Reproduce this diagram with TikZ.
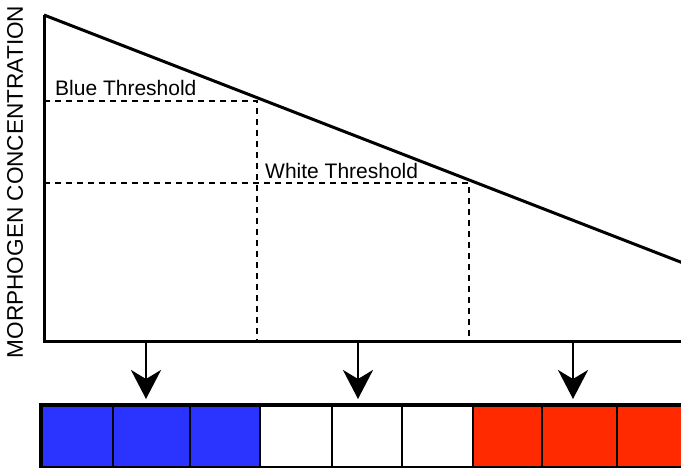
\documentclass[tikz,border=0pt]{standalone}
\usepackage{fontspec}
\setmainfont{Liberation Sans}
\usetikzlibrary{arrows.meta}
\definecolor{cblue}{RGB}{43,51,255}
\definecolor{cred}{RGB}{255,42,0}
\tikzset{
  axisline/.style={line width=3pt, line cap=butt},
  thresh/.style={line width=1.4pt, dash pattern=on 6pt off 5pt},
  lbl/.style={font=\fontsize{21}{24}\selectfont, inner sep=0pt},
  cellbox/.style={draw=black, line width=2pt, minimum height=61pt, inner sep=0pt, anchor=north west},
  downarrow/.style={line width=2.5pt, -{Stealth[length=29pt,width=30pt,inset=9pt]}}
}
\begin{document}
\begin{tikzpicture}[x=1pt,y=-1pt]
\useasboundingbox (0,0) rectangle (681,468);
\clip (0,0) rectangle (681,468);
\fill[white] (0,0) rectangle (681,468);
% axes and gradient
\coordinate (top) at (44,15);
\coordinate (orig) at (44,341);
\coordinate (xend) at (690,341);
\coordinate (gend) at (690,265.7);
\draw[axisline] (top) -- (orig) -- (xend);
\draw[axisline] (top) -- (gend);
% thresholds
\coordinate (b1) at (44,101);
\coordinate (b2) at (257,101);
\coordinate (b3) at (257,341);
\coordinate (w1) at (44,183);
\coordinate (w2) at (469,183);
\coordinate (w3) at (469,341);
\draw[thresh] (b1) -- (b2) -- (b3);
\draw[thresh] (w1) -- (w2) -- (w3);
% labels
\node[lbl, anchor=base west] (bt) at (55,96) {Blue Threshold};
\node[lbl, anchor=base west] (wt) at (265,179) {White Threshold};
\node[lbl, font=\fontsize{22.6}{26}\selectfont, rotate=90, anchor=base] (yl) at (23,182) {MORPHOGEN CONCENTRATION};
% cells
\node[cellbox, fill=cblue, minimum width=71pt] (c1) at (41,405) {};
\node[cellbox, fill=cblue, minimum width=77pt] (c2) at (112,405) {};
\node[cellbox, fill=cblue, minimum width=70pt] (c3) at (189,405) {};
\node[cellbox, fill=white, minimum width=72pt] (c4) at (259,405) {};
\node[cellbox, fill=white, minimum width=70pt] (c5) at (331,405) {};
\node[cellbox, fill=white, minimum width=71pt] (c6) at (401,405) {};
\node[cellbox, fill=cred, minimum width=69pt] (c7) at (472,405) {};
\node[cellbox, fill=cred, minimum width=75pt] (c8) at (541,405) {};
\node[cellbox, fill=cred, minimum width=75pt] (c9) at (616,405) {};
\draw[line width=3.5pt] (c1.north west) rectangle (c9.south east);
% arrows
\coordinate (a1) at (146,341);
\coordinate (a2) at (358,341);
\coordinate (a3) at (573,341);
\coordinate (t1) at (146,399);
\coordinate (t2) at (358,399);
\coordinate (t3) at (573,399);
\draw[downarrow] (a1) -- (t1);
\draw[downarrow] (a2) -- (t2);
\draw[downarrow] (a3) -- (t3);
\end{tikzpicture}
\end{document}
